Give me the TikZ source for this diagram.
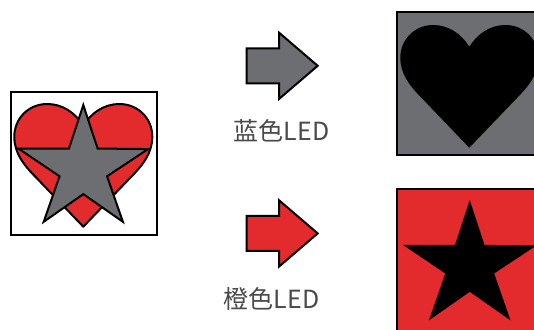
\documentclass[tikz,border=0pt]{standalone}
\usepackage{fontspec}
\usetikzlibrary{positioning}
\newfontfamily\cjk{Noto Sans CJK SC}
\definecolor{ledgray}{HTML}{6D6E71}
\definecolor{ledred}{HTML}{E32A2D}
\definecolor{labelgray}{HTML}{4A4A4A}
\tikzset{
	heartshape/.pic={
		\path[pic actions] (0,0) -- (-47,-49) .. controls (-60,-62) and (-69,-74) .. (-69,-90)
			.. controls (-69,-108) and (-55,-122.7) .. (-36,-122.7)
			.. controls (-21,-122.7) and (-8,-114) .. (0,-101)
			.. controls (8,-114) and (21,-122.7) .. (36,-122.7)
			.. controls (55,-122.7) and (69,-108) .. (69,-90)
			.. controls (69,-74) and (60,-62) .. (47,-49) -- cycle;
	},
	starshape/.pic={
		\path[pic actions] (0,0) -- (14.5,44) -- (65.5,44.5) -- (24,72) -- (40,118) -- (0,90)
			-- (-40,118) -- (-24,72) -- (-65.5,44) -- (-14.5,44) -- cycle;
	},
	arrowshape/.pic={
		\path[pic actions] (0,-17.5) -- (32.5,-17.5) -- (32.5,-33) -- (71,0) -- (32.5,33)
			-- (32.5,17.5) -- (0,17.5) -- cycle;
	},
	ledlabel/.style={font=\cjk\fontsize{25}{25}\selectfont, text=labelgray, inner sep=0pt}
}
\begin{document}
\begin{tikzpicture}[x=1pt, y=-1pt]
	\useasboundingbox (0,0) rectangle (534,329);
	\clip (0,0) rectangle (534,329);

	% object seen in white light
	\draw[line width=2pt, fill=white] (11,92) rectangle (157,235);
	\pic[fill=ledred, draw=black, line width=2pt, line join=round] at (83.3,226.7) {heartshape};
	\pic[fill=ledgray, draw=black, line width=2pt, line join=miter, scale=0.99] at (83.3,105) {starshape};

	% the two arrows
	\pic[fill=ledgray, draw=black, line width=2pt] at (246.7,65.8) {arrowshape};
	\pic[fill=ledred, draw=black, line width=2pt] at (246.7,233.4) {arrowshape};
	\node[ledlabel] (bluelabel) at (281.5,131) {蓝色LED};
	\node[ledlabel] (orangelabel) at (271.5,299) {橙色LED};

	% what is seen under each lamp
	\draw[line width=1.8pt, fill=ledgray] (397,12) rectangle (545,155);
	\pic[fill=black] at (469.3,147.7) {heartshape};
	\draw[line width=1.8pt, fill=ledred] (397,189) rectangle (545,340);
	\pic[fill=black, scale=1.02] at (469.7,200) {starshape};
\end{tikzpicture}
\end{document}
